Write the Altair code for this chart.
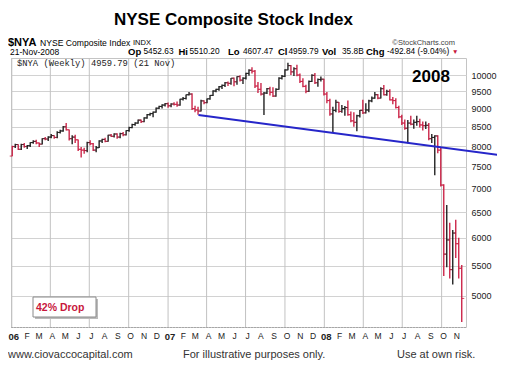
import altair as alt
import pandas as pd
import numpy as np

# ---------------- data (weekly bars, week starting Monday) ----------------
week_start = "2006-01-02"
n_weeks = 151

open_06 = [7754, 7990, 8040, 7920, 8040, 7990, 8010, 8090, 8120, 8080, 8050, 8190, 8180,
           8230, 8270, 8220, 8350, 8390, 8500, 8420, 8190, 8230, 8160, 7920, 7900, 7890,
           8090, 8060, 7900, 7960, 8130, 8170, 8120, 8280, 8250, 8310, 8230, 8320, 8290,
           8400, 8480, 8560, 8600, 8680, 8640, 8740, 8830, 8860, 8900, 9010, 9060, 9100]
high_06 = [8010, 8060, 8050, 8060, 8080, 8030, 8100, 8150, 8160, 8090, 8200, 8230, 8250,
           8310, 8280, 8380, 8420, 8520, 8600, 8430, 8280, 8290, 8170, 7980, 7960, 8110,
           8150, 8080, 8000, 8150, 8190, 8210, 8290, 8310, 8330, 8330, 8340, 8360, 8410,
           8500, 8580, 8620, 8700, 8700, 8760, 8850, 8880, 8920, 9030, 9080, 9120, 9160]
low_06 = [7750, 7950, 7900, 7900, 7960, 7930, 7980, 8060, 8050, 7980, 8040, 8150, 8130,
          8200, 8190, 8200, 8320, 8370, 8400, 8140, 8050, 8080, 7880, 7720, 7810, 7850,
          8020, 7880, 7850, 7950, 8080, 8100, 8110, 8230, 8220, 8190, 8200, 8250, 8270,
          8370, 8460, 8530, 8580, 8600, 8620, 8720, 8800, 8760, 8880, 8990, 9000, 9060]
close_06 = [7990, 8040, 7920, 8040, 7990, 8010, 8090, 8120, 8080, 8050, 8190, 8180, 8230,
            8270, 8220, 8350, 8390, 8500, 8420, 8190, 8230, 8160, 7920, 7900, 7890, 8090,
            8060, 7900, 7960, 8130, 8170, 8120, 8280, 8250, 8310, 8230, 8320, 8290, 8400,
            8480, 8560, 8600, 8680, 8640, 8740, 8830, 8860, 8900, 9010, 9060, 9100, 9140]

open_07 = [9140, 9080, 9130, 9120, 9100, 9270, 9290, 9400, 9420, 9000, 8960, 8930, 9220,
           9170, 9280, 9380, 9510, 9560, 9640, 9680, 9760, 9740, 9900, 9790, 9950, 9840,
           9900, 10050, 10150, 10120, 9660, 9560, 9420, 9450, 9580, 9470, 9360, 9560, 9900,
           9960, 10160, 10300, 10100, 10200, 10000, 9800, 9650, 9500, 9800, 9990, 9760, 9860,
           9870]
high_07 = [9170, 9150, 9180, 9200, 9280, 9330, 9410, 9480, 9440, 9080, 9050, 9250, 9240,
           9290, 9390, 9530, 9580, 9660, 9710, 9780, 9800, 9910, 9920, 9960, 9990, 9930,
           10070, 10180, 10250, 10160, 9780, 9750, 9480, 9600, 9640, 9620, 9590, 9930, 10000,
           10180, 10390, 10320, 10250, 10330, 10050, 9900, 9700, 9830, 10020, 10060, 9890, 9950,
           9880]
low_07 = [9020, 9040, 9090, 9050, 9080, 9230, 9260, 9380, 8960, 8900, 8830, 8920, 9120,
          9150, 9250, 9360, 9470, 9520, 9570, 9630, 9660, 9700, 9650, 9700, 9800, 9720,
          9860, 9980, 10050, 9600, 9450, 9380, 8820, 9420, 9380, 9330, 9340, 9550, 9860,
          9940, 10150, 10000, 9970, 9960, 9750, 9620, 9440, 9480, 9780, 9720, 9640, 9800,
          9380]
close_07 = [9080, 9130, 9120, 9100, 9270, 9290, 9400, 9420, 9000, 8960, 8930, 9220, 9170,
            9280, 9380, 9510, 9560, 9640, 9680, 9760, 9740, 9900, 9790, 9950, 9840, 9900,
            10050, 10150, 10120, 9660, 9560, 9420, 9450, 9580, 9470, 9360, 9560, 9900, 9960,
            10160, 10300, 10100, 10200, 10000, 9800, 9650, 9500, 9800, 9990, 9760, 9860, 9870,
            9420]

open_08 = [9420, 9230, 8850, 8950, 9180, 8920, 9000, 9030, 8830, 8660, 8620, 8800, 8950,
           8880, 8960, 9220, 9300, 9400, 9300, 9580, 9400, 9500, 9250, 9230, 9030, 8770,
           8600, 8460, 8600, 8570, 8620, 8640, 8550, 8530, 8540, 8190, 8220, 8260, 7900,
           7080, 5700, 5960, 5430, 6090, 5890, 5452.63]
high_08 = [9480, 9280, 9050, 9250, 9190, 9100, 9070, 9230, 8920, 8900, 8830, 8960, 9250,
           9150, 9250, 9350, 9480, 9420, 9620, 9690, 9550, 9560, 9330, 9300, 9080, 8830,
           8700, 8680, 8800, 8700, 8800, 8720, 8640, 8640, 8600, 8310, 8280, 8280, 7950,
           7100, 6650, 6290, 6150, 6350, 6000, 5510.20]
low_08 = [9150, 8800, 8360, 8900, 8880, 8880, 8800, 8800, 8620, 8500, 8380, 8750, 8850,
          8860, 8900, 9180, 9280, 9270, 9290, 9380, 9370, 9230, 9120, 9000, 8730, 8550,
          8420, 8070, 8540, 8450, 8530, 8480, 8400, 8440, 8150, 8080, 7300, 7820, 7050,
          5320, 5470, 5280, 5180, 5630, 5280, 4607.47]
close_08 = [9230, 8850, 8950, 9180, 8920, 9000, 9030, 8830, 8660, 8620, 8800, 8950, 8880,
            8960, 9220, 9300, 9400, 9300, 9580, 9400, 9500, 9250, 9230, 9030, 8770, 8600,
            8460, 8600, 8570, 8620, 8640, 8550, 8530, 8540, 8190, 8220, 8260, 7900, 7080,
            5700, 5960, 5430, 6090, 5890, 5452.63, 4959.79]

trend_dates = ["2007-03-13", "2009-02-25"]
trend_values = [8822, 7760]

y_ticks = [5000, 5500, 6000, 6500, 7000, 7500, 8000, 8500, 9000, 9500, 10000]
grid_months = ["2006-01-01", "2006-04-01", "2006-07-01", "2006-10-01",
               "2007-01-01", "2007-04-01", "2007-07-01", "2007-10-01",
               "2008-01-01", "2008-04-01", "2008-07-01", "2008-10-01"]

# ---------------- build table ----------------
df = pd.DataFrame({
    "date": pd.date_range(week_start, periods=n_weeks, freq="7D"),
    "open": open_06 + open_07 + open_08,
    "high": high_06 + high_07 + high_08,
    "low": low_06 + low_07 + low_08,
    "close": close_06 + close_07 + close_08,
})
prev = df["close"].shift(1)
df["dir"] = np.where(df["close"] > prev, "up", "down")

trend = pd.DataFrame({"date": pd.to_datetime(trend_dates), "val": trend_values})
quarters = pd.DataFrame({"date": pd.to_datetime(grid_months)})

SANS = "Liberation Sans"
MONO = "Liberation Mono"
RED = "#c8163c"
H = 269

month_ticks = [alt.DateTime(year=d.year, month=d.month, date=1)
               for d in pd.date_range("2006-01-01", "2008-11-01", freq="MS")]

xscale = alt.Scale(domain=[alt.DateTime(year=2005, month=12, date=30, hours=3),
                           alt.DateTime(year=2008, month=11, date=26, hours=22)])
yscale = alt.Scale(type="log", domain=[4535, 10548], nice=False)

xaxis = alt.Axis(
    values=month_ticks,
    labelExpr="month(datum.value) == 0 ? timeFormat(datum.value, '%y') : substring(timeFormat(datum.value, '%b'), 0, 1)",
    labelFontWeight={"condition": {"test": "month(datum.value) == 0", "value": "bold"}, "value": "normal"},
    labelFontSize={"condition": {"test": "month(datum.value) == 0", "value": 9.5}, "value": 8.5},
    grid=False, ticks=False, tickSize=0, domain=True, domainDash=[1, 2], domainColor="#888888",
    labelPadding=4, labelOffset=1.5, labelColor="#222222", labelFont=SANS,
    labelOverlap=False, labelFlush=False, labelBound=False, title=None,
)
yaxis = alt.Axis(
    orient="right", values=y_ticks, format="d", grid=True, gridColor="#d2d2d2",
    ticks=False, tickSize=0, domain=False, labelPadding=5, labelFontSize=9,
    labelColor="#222222", labelFont=SANS, title=None,
)
X = alt.X("date:T", scale=xscale, axis=xaxis)
color = alt.Color("dir:N", scale=alt.Scale(domain=["up", "down"], range=["#111111", RED]), legend=None)

grid_v = alt.Chart(quarters).mark_rule(color="#c2c2c2", strokeWidth=1, opacity=1).encode(
    x=X, y=alt.value(0), y2=alt.value(H))

base = alt.Chart(df).encode(x=X)
bars = base.mark_rule(strokeWidth=1.3).encode(
    y=alt.Y("low:Q", scale=yscale, axis=yaxis), y2="high:Q", color=color)
opens = base.mark_tick(orient="horizontal", size=2.4, thickness=1.1, xOffset=-1.3).encode(
    y=alt.Y("open:Q", scale=yscale, axis=yaxis), color=color)
closes = base.mark_tick(orient="horizontal", size=2.4, thickness=1.1, xOffset=1.3).encode(
    y=alt.Y("close:Q", scale=yscale, axis=yaxis), color=color)

trend_line = alt.Chart(trend).mark_line(color="#2626c9", strokeWidth=2, clip=False).encode(
    x=X, y=alt.Y("val:Q", scale=yscale, axis=yaxis))

one = pd.DataFrame({"k": [0]})


def label(text, x, y, size, weight="normal", color="#000000", align="left", font=SANS):
    return alt.Chart(one).mark_text(
        text=text, align=align, baseline="middle", fontSize=size, fontWeight=weight,
        color=color, font=font).encode(x=alt.value(x), y=alt.value(y))


last = df.iloc[-1]
chg = last["close"] - df["close"].iloc[-2]
pct = chg / df["close"].iloc[-2] * 100

texts = [
    label("NYSE Composite Stock Index", 222.5, -38, 17, "bold", align="center"),
    label("$NYA", -3, -15.5, 11, "bold"),
    label("NYSE Composite Index", 29, -15, 8.6),
    label("INDX", 122, -15, 7.5),
    label("\u00a9StockCharts.com", 444, -15, 7.5, color="#444444", align="right"),
    label("21-Nov-2008", -1, -6, 8.5),
    label("Op", 117, -6, 9.5, "bold"), label(f"{last['open']:.2f}", 132.5, -6, 8.3),
    label("Hi", 167.5, -6, 9.5, "bold"), label(f"{last['high']:.2f}", 178.5, -6, 8.3),
    label("Lo", 217, -6, 9.5, "bold"), label(f"{last['low']:.2f}", 232, -6, 8.3),
    label("Cl", 267, -6, 9.5, "bold"), label(f"{last['close']:.2f}", 277.5, -6, 8.3),
    label("Vol", 311, -6, 9.5, "bold"), label("35.8B", 331, -6, 8.3),
    label("Chg", 355, -6, 9.5, "bold"), label(f"{chg:.2f} ({pct:.2f}%)", 376, -6, 8.3),
    label("\u25bc", 441, -6, 6.5, color=RED),
    label(f"$NYA (Weekly) {last['close']:.2f} (21 Nov)", 6, 4.5, 8.8, color="#222222", font=MONO),
    label("2008", 420, 18.5, 17, "bold", align="center"),
    label("www.ciovaccocapital.com", -3, 297, 11, color="#333333"),
    label("For illustrative purposes only.", 172, 297, 11, color="#333333"),
    label("Use at own risk.", 386, 297, 11, color="#333333"),
]

shadow = alt.Chart(one).mark_rect(color="#bbbbbb").encode(
    x=alt.value(24), x2=alt.value(87), y=alt.value(241), y2=alt.value(261))
box = alt.Chart(one).mark_rect(fill="white", stroke="#8a8a8a", strokeWidth=1).encode(
    x=alt.value(22), x2=alt.value(85), y=alt.value(239), y2=alt.value(259))
drop = label("42% Drop", 25, 250, 10.5, "bold", color=RED)

chart = alt.layer(grid_v, bars, opens, closes, trend_line, shadow, box, drop, *texts).properties(
    width=455, height=H,
    padding={"left": 3, "top": 50, "right": 31, "bottom": 43},
    autosize=alt.AutoSizeParams(type="none"),
    background="white",
).configure_view(stroke="#c4c4c4", strokeWidth=1).configure_axisX(labelOverlap=False)

chart.save("out.html", embed_options={"renderer": "svg", "actions": False})
